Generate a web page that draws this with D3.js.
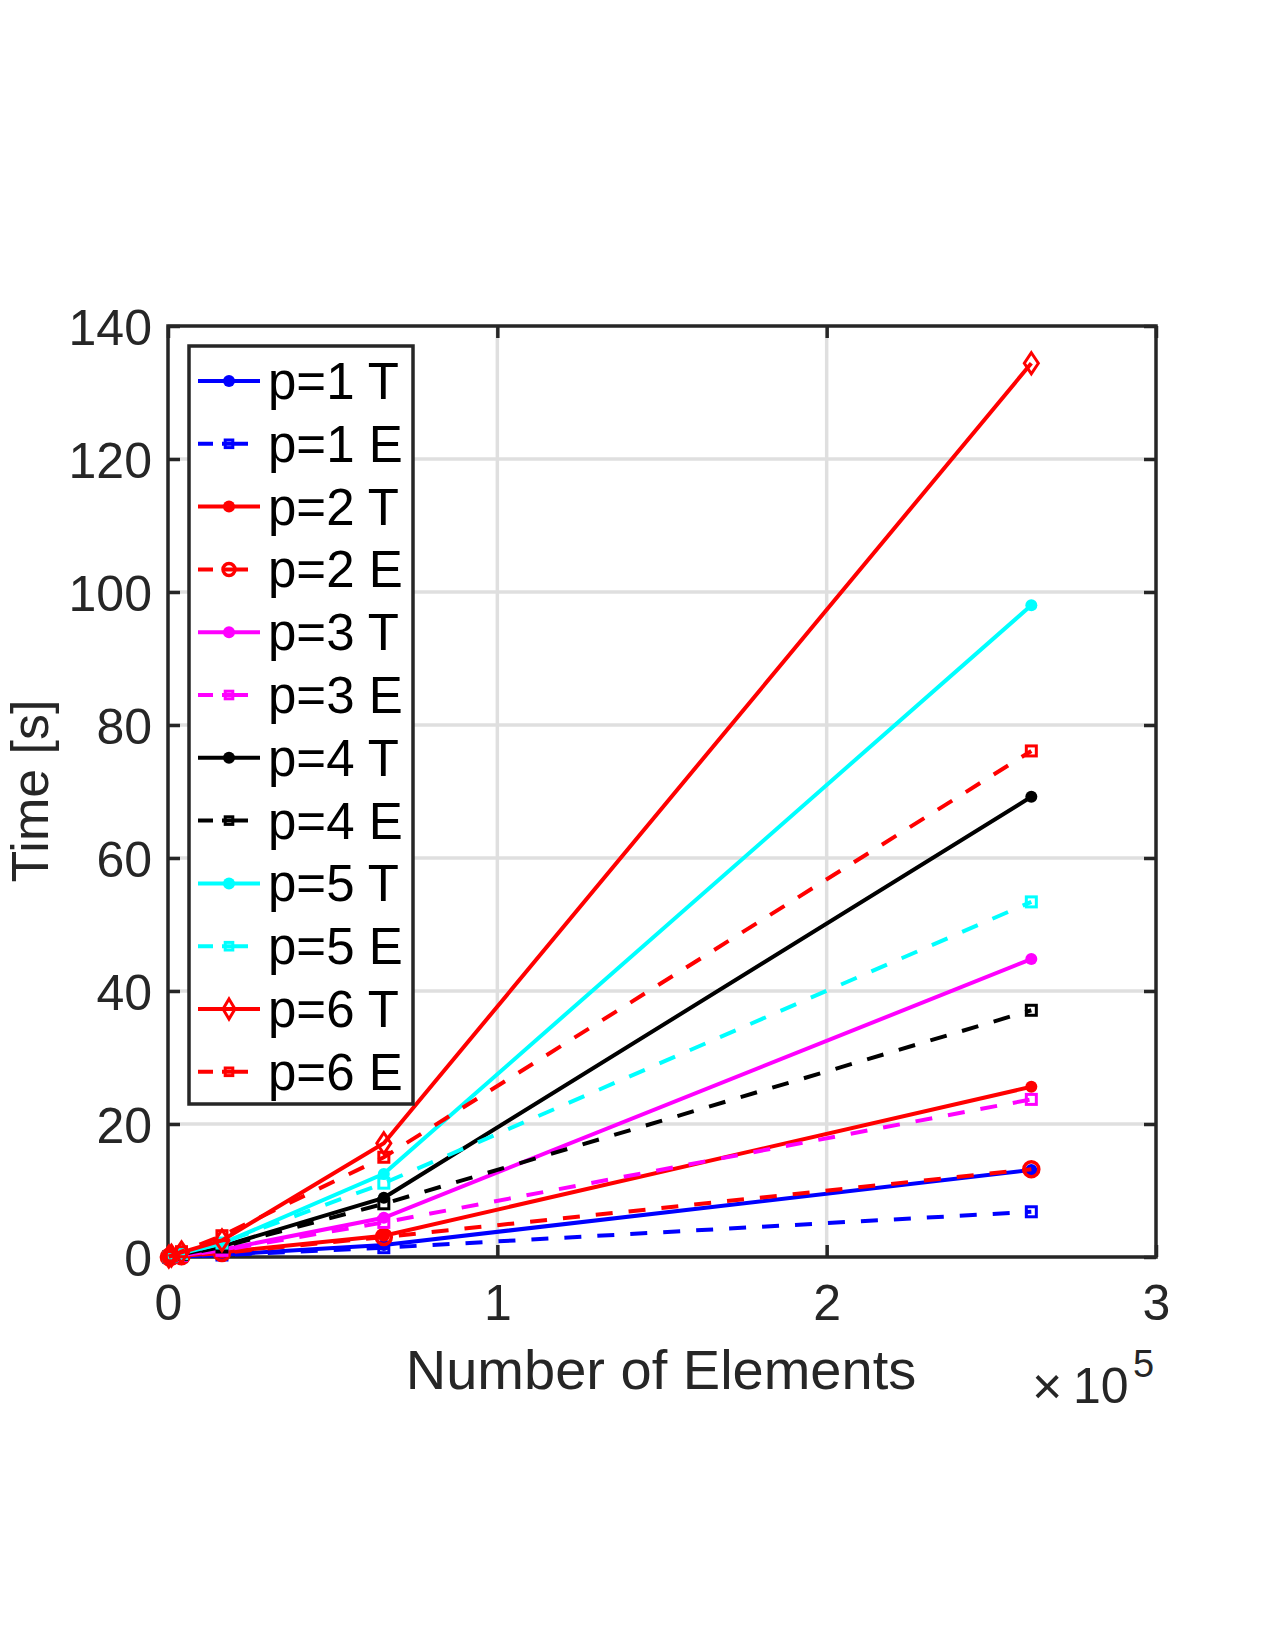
<!DOCTYPE html>
<html>
<head>
<meta charset="utf-8">
<script src="https://cdn.jsdelivr.net/npm/d3@7"></script>
<style>
  body { margin: 0; background: #fff; }
  text { font-family: "Liberation Sans", Arial, sans-serif; }
</style>
</head>
<body>
<svg id="chart" width="1275" height="1650"></svg>
<script>
'use strict';

// number of elements (x values)
const elements = [256, 1024, 4096, 16384, 65536, 262144];

// time [s] for each series
const p1T = [0.005, 0.02, 0.08, 0.35, 1.8, 13.1];
const p1E = [0.004, 0.015, 0.06, 0.3, 1.4, 6.8];
const p2T = [0.01, 0.04, 0.15, 0.7, 3.2, 25.6];
const p2E = [0.008, 0.03, 0.13, 0.6, 3.0, 13.2];
const p3T = [0.02, 0.06, 0.25, 1.1, 5.9, 44.8];
const p3E = [0.015, 0.05, 0.22, 1.0, 5.2, 23.7];
const p4T = [0.03, 0.1, 0.4, 1.6, 8.9, 69.2];
const p4E = [0.02, 0.08, 0.35, 1.5, 8.0, 37.1];
const p5T = [0.04, 0.15, 0.55, 2.0, 12.5, 98.0];
const p5E = [0.03, 0.12, 0.5, 2.1, 11.1, 53.4];
const p6T = [0.06, 0.2, 0.7, 2.5, 17.1, 134.4];
const p6E = [0.05, 0.18, 0.8, 3.2, 15.0, 76.1];

const seriesNames = ["p=1 T", "p=1 E", "p=2 T", "p=2 E", "p=3 T", "p=3 E",
                     "p=4 T", "p=4 E", "p=5 T", "p=5 E", "p=6 T", "p=6 E"];
const seriesValues = [p1T, p1E, p2T, p2E, p3T, p3E, p4T, p4E, p5T, p5E, p6T, p6E];
const seriesColors = ["#0000ff", "#0000ff", "#ff0000", "#ff0000", "#ff00ff", "#ff00ff",
                      "#000000", "#000000", "#00ffff", "#00ffff", "#ff0000", "#ff0000"];
const seriesMarkers = ["dot", "square", "dot", "circle", "dot", "square",
                       "dot", "square", "dot", "square", "diamond", "square"];

const xTicks = [0, 100000, 200000, 300000];
const yTicks = [0, 20, 40, 60, 80, 100, 120, 140];

const axisColor = "#262626";
const gridColor = "#dfdfdf";

let svg = d3.select("#chart");

let x = d3.scaleLinear().domain([0, 300000]).range([168, 1156]);
let y = d3.scaleLinear().domain([0, 140]).range([1257, 326]);

// grid
let grid = svg.append("g");
grid.selectAll(".gx")
  .data(xTicks.slice(1, -1))
  .enter().append("line")
  .attr("x1", d => x(d)).attr("x2", d => x(d))
  .attr("y1", y(0)).attr("y2", y(140))
  .attr("stroke", gridColor).attr("stroke-width", 3.5);
grid.selectAll(".gy")
  .data(yTicks.slice(1, -1))
  .enter().append("line")
  .attr("x1", x(0)).attr("x2", x(300000))
  .attr("y1", d => y(d)).attr("y2", d => y(d))
  .attr("stroke", gridColor).attr("stroke-width", 3.5);

// axes, ticks inward on all four sides
function styleAxis(g) {
  g.select(".domain").remove();
  g.selectAll(".tick line").attr("stroke", axisColor).attr("stroke-width", 3.5);
  g.selectAll(".tick text").attr("fill", axisColor).style("font-size", "50px");
}

svg.append("g")
  .attr("transform", "translate(0," + y(0) + ")")
  .call(d3.axisBottom(x).tickValues(xTicks).tickSize(-12).tickPadding(16)
        .tickFormat(d => d / 100000))
  .call(styleAxis)
  .call(g => g.selectAll(".tick text").attr("y", 63).attr("dy", null));

svg.append("g")
  .attr("transform", "translate(0," + y(140) + ")")
  .call(d3.axisTop(x).tickValues(xTicks).tickSize(-12).tickFormat(""))
  .call(styleAxis);

svg.append("g")
  .attr("transform", "translate(" + x(0) + ",0)")
  .call(d3.axisLeft(y).tickValues(yTicks).tickSize(-12).tickPadding(16))
  .call(styleAxis)
  .call(g => g.selectAll(".tick text").attr("x", -16).attr("dy", "0.36em"));

svg.append("g")
  .attr("transform", "translate(" + x(300000) + ",0)")
  .call(d3.axisRight(y).tickValues(yTicks).tickSize(-12).tickFormat(""))
  .call(styleAxis);

svg.append("rect")
  .attr("x", x(0)).attr("y", y(140))
  .attr("width", x(300000) - x(0)).attr("height", y(0) - y(140))
  .attr("fill", "none").attr("stroke", axisColor).attr("stroke-width", 3.5);

// labels
svg.append("text")
  .attr("x", 661).attr("y", 1389)
  .attr("text-anchor", "middle")
  .attr("fill", axisColor)
  .style("font-size", "56px")
  .text("Number of Elements");

// x10^5 exponent label
svg.append("text")
  .attr("x", 1032).attr("y", 1404)
  .attr("fill", axisColor)
  .style("font-size", "52px")
  .text("×");
svg.append("text")
  .attr("x", 1073).attr("y", 1403)
  .attr("fill", axisColor)
  .style("font-size", "50px")
  .text("10");
svg.append("text")
  .attr("x", 1133).attr("y", 1377)
  .attr("fill", axisColor)
  .style("font-size", "38px")
  .text("5");

svg.append("text")
  .attr("transform", "translate(48,791) rotate(-90)")
  .attr("text-anchor", "middle")
  .attr("fill", axisColor)
  .style("font-size", "52px")
  .text("Time [s]");

// markers
function drawMarker(g, kind, color, cx, cy, inLegend) {
  if (kind === "dot") {
    g.append("circle").attr("cx", cx).attr("cy", cy).attr("r", 6)
      .attr("fill", color);
  } else if (kind === "circle") {
    g.append("circle").attr("cx", cx).attr("cy", cy).attr("r", inLegend ? 6 : 7.5)
      .attr("fill", "none").attr("stroke", color).attr("stroke-width", 3.5);
  } else if (kind === "square") {
    let h = inLegend ? 3.8 : 5;
    g.append("rect").attr("x", cx - h).attr("y", cy - h)
      .attr("width", 2 * h).attr("height", 2 * h)
      .attr("fill", "none").attr("stroke", color).attr("stroke-width", 3);
  } else if (kind === "diamond") {
    let w = inLegend ? 6 : 7, h = inLegend ? 10 : 10.5;
    g.append("path")
      .attr("d", "M" + cx + "," + (cy - h) + "L" + (cx + w) + "," + cy +
                 "L" + cx + "," + (cy + h) + "L" + (cx - w) + "," + cy + "Z")
      .attr("fill", "none").attr("stroke", color).attr("stroke-width", 3);
  }
}

let line = d3.line()
  .x((d, i) => x(elements[i]))
  .y(d => y(d));

let plot = svg.append("g");
seriesValues.forEach(function (vals, k) {
  let g = plot.append("g");
  let dashed = seriesNames[k].endsWith("E");
  g.append("path")
    .datum(vals)
    .attr("d", line)
    .attr("fill", "none")
    .attr("stroke", seriesColors[k])
    .attr("stroke-width", 4)
    .attr("stroke-dasharray", dashed ? "17,16" : null);
  vals.forEach(function (v, i) {
    drawMarker(g, seriesMarkers[k], seriesColors[k], x(elements[i]), y(v), false);
  });
});

// legend
let legend = svg.append("g");
legend.append("rect")
  .attr("x", 189).attr("y", 346)
  .attr("width", 224).attr("height", 758)
  .attr("fill", "#fff").attr("stroke", axisColor).attr("stroke-width", 3.5);

seriesNames.forEach(function (name, k) {
  let ry = 381 + k * 62.8;
  let g = legend.append("g");
  let dashed = name.endsWith("E");
  g.append("line")
    .attr("x1", 198).attr("x2", dashed ? 248 : 260)
    .attr("y1", ry).attr("y2", ry)
    .attr("stroke", seriesColors[k]).attr("stroke-width", 4)
    .attr("stroke-dasharray", dashed ? "15,9,30" : null);
  drawMarker(g, seriesMarkers[k], seriesColors[k], 229, ry, true);
  g.append("text")
    .attr("x", 268).attr("y", ry + 18)
    .attr("fill", "#000")
    .style("font-size", "51px")
    .text(name);
});
</script>
</body>
</html>
